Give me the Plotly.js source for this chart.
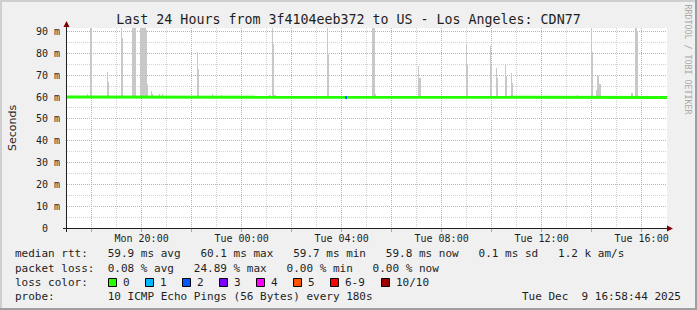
<!DOCTYPE html>
<html><head><meta charset="utf-8">
<script src="https://cdn.plot.ly/plotly-3.0.1.min.js"></script>
<style>html,body{margin:0;padding:0;background:#f0f0f0;}#chart{width:697px;height:310px;}</style>
</head><body><div id="chart"></div>
<script>
// ---- data ----
const smokeTimes = [
  "2025-12-08 17:50","2025-12-08 17:57","2025-12-08 18:00","2025-12-08 18:38","2025-12-08 18:41",
  "2025-12-08 19:12","2025-12-08 19:15","2025-12-08 19:39","2025-12-08 19:42","2025-12-08 19:45",
  "2025-12-08 19:57","2025-12-08 20:00","2025-12-08 20:03","2025-12-08 20:06","2025-12-08 20:09",
  "2025-12-08 20:12","2025-12-08 20:15","2025-12-08 20:23","2025-12-08 20:26","2025-12-08 20:43",
  "2025-12-08 20:50","2025-12-08 22:14","2025-12-08 22:17","2025-12-08 22:51","2025-12-08 23:11",
  "2025-12-09 01:08","2025-12-09 01:14","2025-12-09 01:17","2025-12-09 01:20","2025-12-09 03:26",
  "2025-12-09 03:29","2025-12-09 05:15","2025-12-09 05:18","2025-12-09 05:21","2025-12-09 07:05",
  "2025-12-09 07:08","2025-12-09 08:59","2025-12-09 09:01","2025-12-09 09:58","2025-12-09 10:00",
  "2025-12-09 10:11","2025-12-09 10:13","2025-12-09 10:33","2025-12-09 10:35","2025-12-09 10:47",
  "2025-12-09 10:49","2025-12-09 13:26","2025-12-09 14:00","2025-12-09 14:02","2025-12-09 14:11",
  "2025-12-09 14:15","2025-12-09 14:17","2025-12-09 14:20","2025-12-09 15:37","2025-12-09 15:45",
  "2025-12-09 15:48","2025-12-09 15:49"
];
const smokeMaxMs = [
  61.4, 95, 95, 71.6, 66.9,
  95, 87.2, 95, 95, 95,
  95, 95, 95, 95, 95,
  90.8, 66, 62.8, 61.5, 61.4,
  61.4, 80.8, 73, 61.5, 61,
  61, 95, 84.3, 61, 95,
  79.9, 95, 95, 61.5, 74.4,
  68.9, 84.3, 74.7, 83.4, 74.7,
  73.4, 68.9, 74.8, 69.4, 70.8,
  66.6, 61, 95, 80.8, 63.2,
  69.8, 69.8, 66, 62, 95,
  95, 90
];
const smokeMinMs = 59.7;
const medianTimes = ["2025-12-08 17:01","2025-12-08 19:00","2025-12-08 21:00","2025-12-08 23:00",
  "2025-12-09 01:00","2025-12-09 03:00","2025-12-09 05:00","2025-12-09 07:00","2025-12-09 09:00",
  "2025-12-09 11:00","2025-12-09 13:00","2025-12-09 15:00","2025-12-09 17:01"];
const medianRttMs = [60.0, 60.0, 59.9, 60.0, 60.0, 59.9, 60.0, 59.9, 60.0, 59.9, 59.9, 60.0, 59.8];
const loss2Times = ["2025-12-09 04:09","2025-12-09 04:13"];
const loss2RttMs = [59.8, 59.8];

const xRange = ["2025-12-08 17:01","2025-12-09 17:01"];
const xTickVals = ["2025-12-08 18:00","2025-12-08 20:00","2025-12-08 22:00","2025-12-09 00:00",
  "2025-12-09 02:00","2025-12-09 04:00","2025-12-09 06:00","2025-12-09 08:00","2025-12-09 10:00",
  "2025-12-09 12:00","2025-12-09 14:00","2025-12-09 16:00"];
const xTickText = ["","Mon 20:00","","Tue 00:00","","Tue 04:00","","Tue 08:00","","Tue 12:00","","Tue 16:00"];
const xMinorVals = ["2025-12-08 17:00","2025-12-08 19:00","2025-12-08 21:00","2025-12-08 23:00",
  "2025-12-09 01:00","2025-12-09 03:00","2025-12-09 05:00","2025-12-09 07:00","2025-12-09 09:00",
  "2025-12-09 11:00","2025-12-09 13:00","2025-12-09 15:00","2025-12-09 17:00"];
const yTickVals = [0,10,20,30,40,50,60,70,80,90];
const yTickText = ["0\u00a0\u00a0","10 m","20 m","30 m","40 m","50 m","60 m","70 m","80 m","90 m"];
const yMinorVals = [5,15,25,35,45,55,65,75,85];

const titleText = "Last 24 Hours from 3f4104eeb372 to US - Los Angeles: CDN77";
const yTitle = "Seconds";
const lossLabels = ["0","1","2","3","4","5","6-9","10/10"];
const lossColors = ["#26ff00","#00b8ff","#0059ff","#7e00ff","#ff00ff","#ff5500","#ff0000","#a10000"];
const legendRtt = ["median rtt:","59.9 ms avg","60.1 ms max","59.7 ms min","59.8 ms now","0.1 ms sd","1.2 k am/s"];
const legendLoss = ["packet loss:","0.08 % avg","24.89 % max","0.00 % min","0.00 % now"];
const probeText = ["probe:","10 ICMP Echo Pings (56 Bytes) every 180s"];
const stampText = "Tue Dec  9 16:58:44 2025";
const watermark = "RRDTOOL / TOBI OETIKER";

// ---- layout helpers ----
const L = 67, R = 667, T = 28, B = 228;
const px = p => (p - L) / (R - L);
const py = p => (B - p) / (B - T);
const NB = "\u00a0";
const pad = (s, n) => s + NB.repeat(Math.max(0, n - s.length));
const mono = "DejaVu Sans Mono";
const txt = "#1e1e1e";

const line1 = pad(legendRtt[0], 14) + pad(legendRtt[1], 14) + pad(legendRtt[2], 14) +
              pad(legendRtt[3], 14) + pad(legendRtt[4], 14) + pad(legendRtt[5], 12) + legendRtt[6];
const line2 = pad(legendLoss[0], 14) + pad(legendLoss[1], 13) + pad(legendLoss[2], 14) +
              pad(legendLoss[3], 13) + legendLoss[4];
const line4 = pad(probeText[0], 14) + probeText[1];

function ann(text, xp, yp, opts) {
  return Object.assign({text: text.replace(/ /g, NB), xref: "paper", yref: "paper",
    x: px(xp), y: py(yp), xanchor: "left", yanchor: "middle", showarrow: false,
    borderpad: 0, borderwidth: 0, font: {family: mono, size: 11, color: txt}}, opts || {});
}

const annotations = [
  ann(line1, 15, 254), ann(line2, 15, 268), ann("loss color:", 15, 282), ann(line4, 15, 296),
  ann(stampText, 681, 296, {xanchor: "right"}),
  {text: yTitle, xref: "paper", yref: "paper", x: px(12), y: py(128), textangle: -90,
   xanchor: "center", yanchor: "middle", showarrow: false, borderpad: 0,
   font: {family: "DejaVu Sans", size: 11, color: txt}},
  {text: watermark.replace(/ /g, NB), xref: "paper", yref: "paper", x: px(687.5), y: py(59), textangle: 90,
   xanchor: "center", yanchor: "middle", showarrow: false, borderpad: 0,
   font: {family: mono, size: 8.3, color: "#a8a8a8"}}
];
const boxLeft = [108.5, 145.5, 182.5, 219.5, 256.5, 293.5, 330.5, 381.5];
const shapes = [
  {type: "rect", xref: "paper", yref: "paper", x0: px(0), x1: px(697), y0: py(0), y1: py(2), fillcolor: "#cfcfcf", line: {width: 0}, layer: "below"},
  {type: "rect", xref: "paper", yref: "paper", x0: px(0), x1: px(2), y0: py(0), y1: py(310), fillcolor: "#cfcfcf", line: {width: 0}, layer: "below"},
  {type: "rect", xref: "paper", yref: "paper", x0: px(0), x1: px(697), y0: py(308), y1: py(310), fillcolor: "#9e9e9e", line: {width: 0}},
  {type: "rect", xref: "paper", yref: "paper", x0: px(695), x1: px(697), y0: py(0), y1: py(310), fillcolor: "#9e9e9e", line: {width: 0}},
  {type: "line", xref: "paper", yref: "paper", x0: px(66.5), x1: px(66.5), y0: py(232), y1: py(25), line: {color: "#202020", width: 1}},
  {type: "line", xref: "paper", yref: "paper", x0: px(63), x1: px(668), y0: py(228.5), y1: py(228.5), line: {color: "#202020", width: 1}},
  {type: "path", xref: "paper", yref: "paper", path: `M ${px(63.5)},${py(27)} L ${px(69.5)},${py(27)} L ${px(66.5)},${py(21)} Z`, fillcolor: "#800000", line: {width: 0}},
  {type: "path", xref: "paper", yref: "paper", path: `M ${px(667)},${py(225.5)} L ${px(667)},${py(231.5)} L ${px(673)},${py(228.5)} Z`, fillcolor: "#800000", line: {width: 0}}
];
lossLabels.forEach((lab, i) => {
  shapes.push({type: "rect", xref: "paper", yref: "paper", x0: px(boxLeft[i]), x1: px(boxLeft[i] + 8),
    y0: py(286.5), y1: py(278.5), fillcolor: lossColors[i], line: {color: "#000", width: 1}});
  annotations.push(ann(lab, boxLeft[i] + 14.5, 282));
});

const traces = [
  {type: "bar", x: smokeTimes, y: smokeMaxMs.map(v => v - smokeMinMs), base: smokeMinMs,
   width: 180000, marker: {color: "#c8c8c8", line: {width: 0}}, hoverinfo: "skip"},
  {type: "scatter", mode: "lines", x: medianTimes, y: medianRttMs,
   line: {color: "#26ff00", width: 3}, hoverinfo: "skip"},
  {type: "scatter", mode: "lines", x: loss2Times, y: loss2RttMs,
   line: {color: "#0059ff", width: 3}, hoverinfo: "skip"}
];

const gridMajor = "#d8a6a6", gridMinor = "#d2d2d2", dash = "1px,1px";
const layout = {
  width: 697, height: 310, showlegend: false,
  margin: {l: L, r: 697 - R, t: T, b: 310 - B, pad: 0},
  paper_bgcolor: "#f0f0f0", plot_bgcolor: "#ffffff",
  title: {text: titleText, font: {family: mono, size: 13.3, color: txt},
          x: 0.5, xref: "container", xanchor: "center", y: 1 - 19 / 310, yref: "container", yanchor: "middle"},
  xaxis: {type: "date", range: xRange, tickmode: "array", tickvals: xTickVals, ticktext: xTickText,
          showgrid: true, gridcolor: gridMajor, griddash: dash, gridwidth: 1,
          ticks: "outside", ticklen: 3, tickcolor: "#d09a9a", zeroline: false, showline: false,
          ticklabelstandoff: -2,
          tickfont: {family: mono, size: 10, color: txt},
          minor: {tickmode: "array", tickvals: xMinorVals, showgrid: true, gridcolor: gridMinor, griddash: dash, ticks: ""},
          fixedrange: true},
  yaxis: {range: [0, 91.6], tickmode: "array", tickvals: yTickVals, ticktext: yTickText,
          showgrid: true, gridcolor: gridMajor, griddash: dash, gridwidth: 1,
          ticks: "outside", ticklen: 4, tickcolor: "rgba(0,0,0,0)", zeroline: false, showline: false,
          tickfont: {family: mono, size: 10, color: txt},
          minor: {tickmode: "array", tickvals: yMinorVals, showgrid: true, gridcolor: gridMinor, griddash: dash, ticks: ""},
          fixedrange: true},
  bargap: 0,
  annotations: annotations, shapes: shapes
};
Plotly.newPlot("chart", traces, layout, {staticPlot: true, displayModeBar: false});
</script></body></html>
